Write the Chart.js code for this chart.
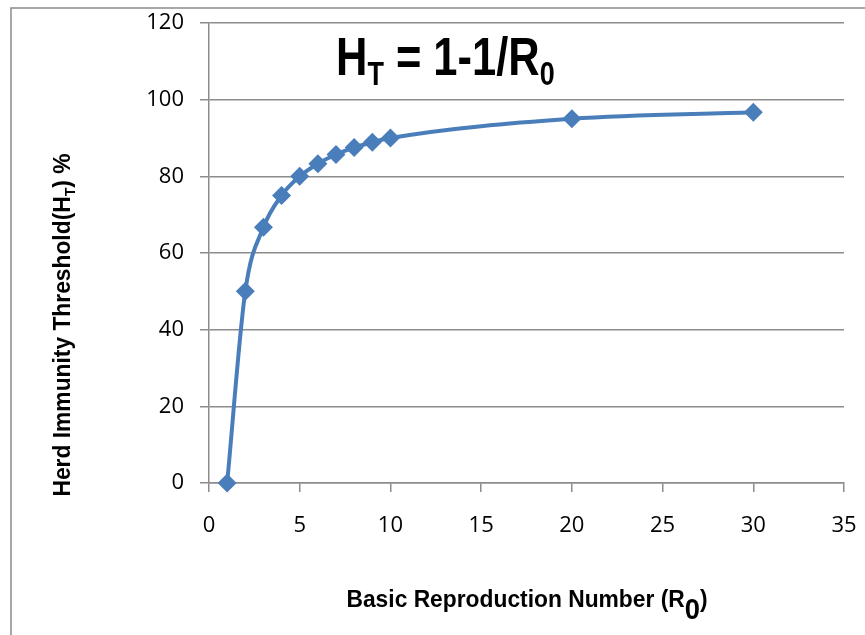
<!DOCTYPE html>
<html>
<head>
<meta charset="utf-8">
<script src="https://cdn.jsdelivr.net/npm/chart.js@4.4.1/dist/chart.umd.min.js"></script>
<style>
  html, body { margin: 0; padding: 0; background: #fff; }
  #wrap { width: 865px; height: 635px; position: relative; }
</style>
</head>
<body>
<div id="wrap"><canvas id="chart" width="865" height="635"></canvas></div>
<script>
// values
const r0_values = [1, 2, 3, 4, 5, 6, 7, 8, 9, 10, 20, 30];
const ht_values = [0, 50, 66.7, 75, 80, 83.3, 85.7, 87.5, 88.9, 90, 95, 96.7];
const x_ticks = [0, 5, 10, 15, 20, 25, 30, 35];
const y_ticks = [0, 20, 40, 60, 80, 100, 120];

const blue = '#4a7ebb';
const gridGray = '#8c8c8c';

// draw text made of normal and subscript parts (sub: [size ratio, drop])
function drawParts(c, parts, x, y, size, family, align, sx) {
  let w = 0;
  parts.forEach(p => {
    c.font = 'bold ' + (p.sub ? size * p.sub[0] : size) + 'px ' + family;
    p.w = c.measureText(p.t).width;
    w += p.w;
  });
  c.save();
  c.translate(x, y);
  c.scale(sx || 1, 1);
  let cx = align === 'center' ? -w / 2 : 0;
  parts.forEach(p => {
    c.font = 'bold ' + (p.sub ? size * p.sub[0] : size) + 'px ' + family;
    c.fillText(p.t, cx, p.sub ? p.sub[1] : 0);
    cx += p.w;
  });
  c.restore();
}

const textPlugin = {
  id: 'texts',
  afterDraw(chart) {
    const c = chart.ctx;
    c.save();
    // outer frame
    c.strokeStyle = '#8a8a8a';
    c.lineWidth = 1.5;
    c.beginPath();
    c.moveTo(11, 640);
    c.lineTo(11, 8);
    c.lineTo(870, 8);
    c.stroke();

    c.fillStyle = '#000';
    c.textBaseline = 'alphabetic';
    c.textAlign = 'left';
    const fam = '"Liberation Sans", Arial, sans-serif';
    // formula title
    drawParts(c, [{t: 'H'}, {t: 'T', sub: [0.62, 10]}, {t: ' = 1-1/R'}, {t: '0', sub: [0.62, 10]}],
      336, 75, 53, fam, 'left', 0.82);
    // x axis title
    drawParts(c, [{t: 'Basic Reproduction Number (R'}, {t: '0', sub: [1.2, 12]}, {t: ')'}],
      527, 607, 24, fam, 'center', 0.95);
    // y axis title
    c.translate(70, 325);
    c.rotate(-Math.PI / 2);
    drawParts(c, [{t: 'Herd Immunity Threshold(H'}, {t: 'T', sub: [0.62, 5]}, {t: ') %'}],
      0, 0, 24, fam, 'center', 0.95);
    c.restore();
  }
};

const pts = r0_values.map((v, i) => ({x: v, y: ht_values[i]}));

new Chart(document.getElementById('chart'), {
  type: 'line',
  plugins: [textPlugin],
  data: {
    datasets: [{
      data: pts,
      borderColor: blue,
      backgroundColor: blue,
      borderWidth: 4,
      pointStyle: 'rectRot',
      pointRadius: 9.5,
      pointHoverRadius: 9.5,
      pointBorderWidth: 0,
      tension: 0.4,
      cubicInterpolationMode: 'monotone',
      clip: false
    }]
  },
  options: {
    responsive: false,
    animation: false,
    events: [],
    layout: { padding: { left: 0, right: 21, top: 23, bottom: 0 } },
    plugins: { legend: { display: false }, tooltip: { enabled: false } },
    scales: {
      x: {
        type: 'linear',
        min: 0, max: 35,
        afterBuildTicks(s) { s.ticks = x_ticks.map(v => ({value: v})); },
        afterFit(s) { s.height = 152; s.paddingLeft = 0; s.paddingRight = 0; },
        grid: { drawOnChartArea: false, drawTicks: true, tickLength: 9, color: gridGray, lineWidth: 1.5 },
        border: { color: gridGray, width: 1.5 },
        ticks: { color: '#000', padding: 21, font: { family: '"Open Sans"', size: 22 } }
      },
      y: {
        min: 0, max: 120,
        afterBuildTicks(s) { s.ticks = y_ticks.map(v => ({value: v})); },
        afterFit(s) { s.width = 209; s.paddingTop = 0; s.paddingBottom = 0; },
        grid: { color: gridGray, lineWidth: 1.5, tickLength: 9 },
        border: { color: gridGray, width: 1.5 },
        ticks: { color: '#000', padding: 16, font: { family: '"Open Sans"', size: 22 } }
      }
    }
  }
});
</script>
</body>
</html>
